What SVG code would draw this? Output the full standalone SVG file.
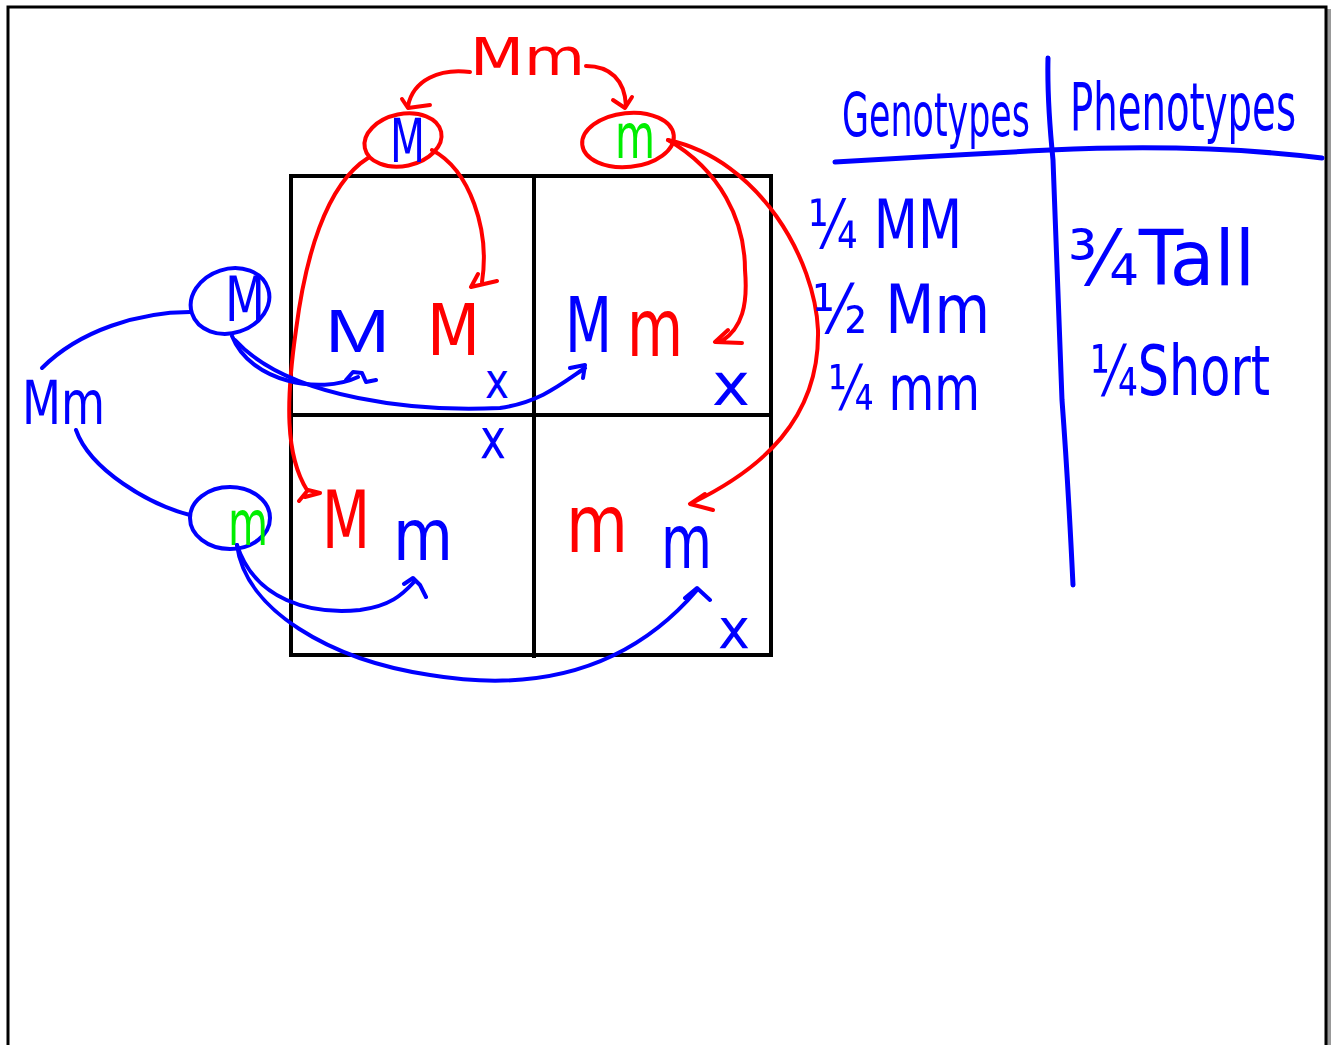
<svg xmlns="http://www.w3.org/2000/svg" width="1336" height="1045" viewBox="0 0 1336 1045">
<style>
.t{font-family:"Liberation Sans Narrow","DejaVu Sans Condensed","Liberation Sans",sans-serif;font-weight:normal}
.w{font-family:"Liberation Sans","DejaVu Sans",sans-serif}
.tb{fill:#0000ff}
.tr{fill:#ff0000}
.tg{fill:#00ee00}
.sb{fill:none;stroke:#0000ff;stroke-width:4;stroke-linecap:round;stroke-linejoin:round}
.sr{fill:none;stroke:#ff0000;stroke-width:4;stroke-linecap:round;stroke-linejoin:round}
.grid{fill:none;stroke:#000;stroke-width:4}
</style>
<rect width="1336" height="1045" fill="#fff"/>
<g id="frame">
<line x1="1329" y1="9" x2="1329" y2="1045" stroke="#999" stroke-width="4"/>
<path d="M8,1045 V7 H1326 V1045" fill="none" stroke="#000" stroke-width="3"/>
</g>
<g id="punnett-grid">
<rect class="grid" x="291" y="176" width="480" height="479"/>
<line class="grid" x1="534" y1="176" x2="534" y2="658"/>
<line class="grid" x1="289" y1="415" x2="773" y2="415"/>
</g>
<g id="parent-top-label"><text class="t tr" x="470" y="75" font-size="52" textLength="115" lengthAdjust="spacingAndGlyphs">Mm</text></g>
<g id="parent-top-M">
<ellipse class="sr" cx="403" cy="140" rx="39" ry="26" transform="rotate(-12 403 140)"/>
<text class="t tb" x="390" y="162" font-size="60" textLength="35" lengthAdjust="spacingAndGlyphs">M</text>
</g>
<g id="parent-top-m">
<ellipse class="sr" cx="628" cy="140" rx="46" ry="27" transform="rotate(-6 628 140)"/>
<text class="t tg" x="615" y="158" font-size="62" textLength="40" lengthAdjust="spacingAndGlyphs">m</text>
</g>
<g id="parent-left-label"><text class="t tb" x="22" y="424" font-size="60" textLength="83" lengthAdjust="spacingAndGlyphs">Mm</text></g>
<g id="parent-left-M">
<ellipse class="sb" cx="230" cy="301" rx="40" ry="32" transform="rotate(-18 230 301)"/>
<text class="t tb" x="225" y="321" font-size="62" textLength="40" lengthAdjust="spacingAndGlyphs">M</text>
</g>
<g id="parent-left-m">
<ellipse class="sb" cx="230" cy="518" rx="40" ry="31"/>
<text class="t tg" x="228" y="545" font-size="62" textLength="40" lengthAdjust="spacingAndGlyphs">m</text>
</g>
<g id="cell-MM">
<text class="t w tb" x="325" y="352" font-size="62" textLength="65" lengthAdjust="spacingAndGlyphs">M</text>
<text class="t tr" x="427" y="355" font-size="72" textLength="53" lengthAdjust="spacingAndGlyphs">M</text>
<text class="t tb" x="485" y="398" font-size="50" textLength="24" lengthAdjust="spacingAndGlyphs">x</text>
</g>
<g id="cell-Mm-top">
<text class="t tb" x="565" y="352" font-size="76" textLength="47" lengthAdjust="spacingAndGlyphs">M</text>
<text class="t tr" x="627" y="356" font-size="80" textLength="56" lengthAdjust="spacingAndGlyphs">m</text>
<text class="t tb" x="712" y="405" font-size="58" textLength="38" lengthAdjust="spacingAndGlyphs">x</text>
</g>
<g id="cell-Mm-bottom">
<text class="t tr" x="322" y="548" font-size="80" textLength="48" lengthAdjust="spacingAndGlyphs">M</text>
<text class="t tb" x="393" y="560" font-size="72" textLength="60" lengthAdjust="spacingAndGlyphs">m</text>
<text class="t tb" x="480" y="458" font-size="56" textLength="26" lengthAdjust="spacingAndGlyphs">x</text>
</g>
<g id="cell-mm">
<text class="t tr" x="566" y="552" font-size="80" textLength="62" lengthAdjust="spacingAndGlyphs">m</text>
<text class="t tb" x="661" y="568" font-size="74" textLength="51" lengthAdjust="spacingAndGlyphs">m</text>
<text class="t tb" x="718" y="648" font-size="56" textLength="32" lengthAdjust="spacingAndGlyphs">x</text>
</g>
<g id="connectors">
<path class="sr" d="M470,72 C440,68 413,80 408,106 M402,99 L408,108 L430,105"/>
<path class="sr" d="M586,66 C610,66 625,80 626,106 M613,100 L625,108 L632,97"/>
<path class="sr" d="M432,150 C470,170 490,230 482,282 M478,274 L471,287 L497,281"/>
<path class="sr" d="M368,158 C325,185 305,260 296,330 C286,400 285,455 307,490 M299,501 L308,490 L320,493 L305,497"/>
<path class="sr" d="M668,140 C720,170 745,220 745,270 C748,305 742,328 722,341 M728,330 L715,342 L742,343"/>
<path class="sr" d="M668,140 C760,160 815,260 818,330 C820,420 760,470 692,503 M705,494 L690,504 L713,510"/>
<path class="sb" d="M42,368 C80,330 140,312 190,312"/>
<path class="sb" d="M76,430 C90,470 150,505 190,515"/>
<path class="sb" d="M232,336 C250,382 320,395 358,377 M346,380 L353,372 L362,373 L366,382 L376,380"/>
<path class="sb" d="M235,340 C290,400 420,412 500,408 C540,402 560,385 585,368 M570,368 L585,365 L583,378"/>
<path class="sb" d="M237,545 C255,600 310,615 360,610 C390,606 402,595 414,582 M404,584 L413,578 L420,585 L426,597"/>
<path class="sb" d="M237,545 C245,610 330,660 430,675 C520,690 620,680 697,590 M685,598 L697,588 L710,600"/>
</g>
<g id="table">
<path class="sb" style="stroke-width:5" d="M1048,58 Q1047,100 1053,160 L1062,400 Q1068,480 1073,585"/>
<path class="sb" style="stroke-width:5" d="M835,162 Q950,155 1050,150 Q1200,143 1322,158"/>
<text class="t tb" transform="translate(842,136) scale(1,1.6)" x="0" y="0" font-size="38" textLength="188" lengthAdjust="spacingAndGlyphs">Genotypes</text>
<text class="t tb" transform="translate(1070,130) scale(1,1.6)" x="0" y="0" font-size="41" textLength="226" lengthAdjust="spacingAndGlyphs">Phenotypes</text>
<text class="t tb" x="808" y="248" font-size="68" textLength="154" lengthAdjust="spacingAndGlyphs">¼ MM</text>
<text class="t tb" x="812" y="333" font-size="68" textLength="178" lengthAdjust="spacingAndGlyphs">½ Mm</text>
<text class="t tb" x="828" y="410" font-size="62" textLength="152" lengthAdjust="spacingAndGlyphs">¼ mm</text>
<text class="t tb" x="1068" y="285" font-size="76" textLength="187" lengthAdjust="spacingAndGlyphs">¾Tall</text>
<text class="t tb" x="1090" y="395" font-size="70" textLength="180" lengthAdjust="spacingAndGlyphs">¼Short</text>
</g>
</svg>
